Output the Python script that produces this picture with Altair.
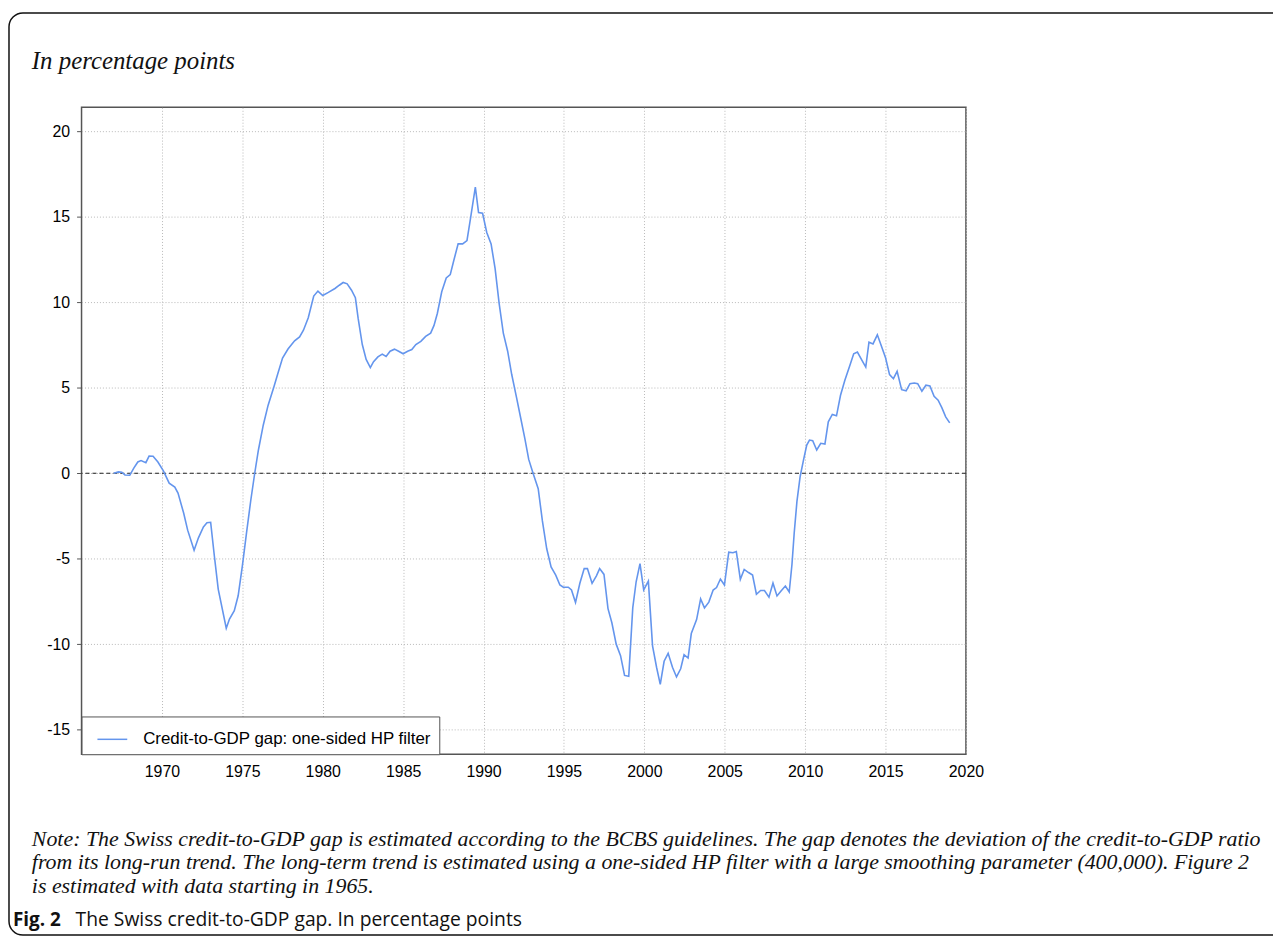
import altair as alt
import pandas as pd

# ---- data (decimal year, gap in percentage points) ----
years = [
    1967.0, 1967.3, 1967.5, 1967.7, 1968.0, 1968.25, 1968.5, 1968.7, 1969.0, 1969.2,
    1969.45, 1969.75, 1970.1, 1970.45, 1970.8, 1971.0, 1971.35, 1971.6, 1972.0, 1972.27,
    1972.58, 1972.8, 1973.03, 1973.26, 1973.5, 1974.0, 1974.2, 1974.5, 1974.74, 1975.0,
    1975.26, 1975.53, 1975.77, 1976.0, 1976.3, 1976.6, 1976.97, 1977.2, 1977.5, 1977.84,
    1978.25, 1978.56, 1978.8, 1979.1, 1979.44, 1979.7, 1980.0, 1980.35, 1980.76, 1981.03,
    1981.27, 1981.52, 1981.79, 1982.03, 1982.2, 1982.46, 1982.7, 1982.96, 1983.16, 1983.43,
    1983.7, 1983.94, 1984.19, 1984.46, 1984.72, 1985.0, 1985.28, 1985.54, 1985.79, 1986.1,
    1986.4, 1986.71, 1986.92, 1987.13, 1987.4, 1987.68, 1987.93, 1988.15, 1988.42, 1988.7,
    1988.97, 1989.18, 1989.49, 1989.69, 1989.94, 1990.2, 1990.47, 1990.72, 1990.97, 1991.23,
    1991.5, 1991.75, 1992.05, 1992.32, 1992.57, 1992.81, 1993.08, 1993.4, 1993.66, 1993.93,
    1994.2, 1994.49, 1994.75, 1994.96, 1995.27, 1995.47, 1995.72, 1995.99, 1996.26, 1996.46,
    1996.75, 1997.02, 1997.22, 1997.49, 1997.74, 1997.98, 1998.25, 1998.52, 1998.77, 1999.03,
    1999.28, 1999.49, 1999.73, 1999.96, 2000.25, 2000.51, 2000.76, 2000.99, 2001.23, 2001.48,
    2001.75, 2002.0, 2002.26, 2002.47, 2002.72, 2002.92, 2003.25, 2003.5, 2003.74, 2004.01,
    2004.28, 2004.49, 2004.73, 2004.98, 2005.25, 2005.51, 2005.72, 2005.97, 2006.21, 2006.48,
    2006.73, 2006.97, 2007.23, 2007.47, 2007.75, 2008.0, 2008.25, 2008.5, 2008.77, 2009.01,
    2009.18, 2009.32, 2009.49, 2009.69, 2009.9, 2010.1, 2010.27, 2010.47, 2010.72, 2010.97,
    2011.23, 2011.44, 2011.69, 2011.95, 2012.2, 2012.47, 2012.78, 2013.02, 2013.25, 2013.5,
    2013.77, 2013.97, 2014.22, 2014.49, 2014.73, 2015.0, 2015.25, 2015.49, 2015.72, 2016.0,
    2016.28, 2016.52, 2016.79, 2017.0, 2017.26, 2017.51, 2017.76, 2018.02, 2018.27, 2018.5,
    2018.74, 2018.99,
]
gap = [
    0.0, 0.08, 0.06, -0.1, -0.12, 0.3, 0.66, 0.74, 0.62, 1.0,
    0.99, 0.66, 0.12, -0.58, -0.81, -1.16, -2.33, -3.33, -4.5, -3.78,
    -3.14, -2.9, -2.87, -4.84, -6.78, -9.07, -8.53, -8.04, -7.17, -5.43,
    -3.49, -1.55, 0.0, 1.36, 2.81, 3.97, 5.08, 5.81, 6.74, 7.27,
    7.75, 7.98, 8.37, 9.1, 10.37, 10.66, 10.4, 10.58, 10.81, 11.0,
    11.16, 11.08, 10.71, 10.27, 9.07, 7.53, 6.66, 6.18, 6.53, 6.81,
    6.97, 6.83, 7.14, 7.26, 7.14, 6.99, 7.14, 7.24, 7.53, 7.72,
    8.01, 8.2, 8.65, 9.36, 10.62, 11.43, 11.62, 12.45, 13.42, 13.42,
    13.61, 14.86, 16.74, 15.25, 15.21, 14.09, 13.42, 11.97, 9.94, 8.2,
    7.14, 5.79, 4.44, 3.19, 2.03, 0.81, 0.0, -0.9, -2.79, -4.42,
    -5.48, -5.96, -6.54, -6.67, -6.67, -6.83, -7.56, -6.44, -5.58, -5.58,
    -6.44, -6.0, -5.58, -5.92, -7.92, -8.75, -10.0, -10.67, -11.83, -11.88,
    -7.88, -6.35, -5.29, -6.83, -6.31, -10.1, -11.35, -12.35, -11.0, -10.54,
    -11.35, -11.92, -11.44, -10.62, -10.81, -9.38, -8.56, -7.35, -7.88, -7.54,
    -6.83, -6.69, -6.19, -6.54, -4.62, -4.65, -4.58, -6.21, -5.63, -5.81,
    -5.96, -7.08, -6.86, -6.86, -7.25, -6.43, -7.18, -6.89, -6.6, -6.95,
    -5.34, -3.5, -1.65, -0.19, 0.78, 1.65, 1.94, 1.9, 1.36, 1.75,
    1.71, 3.01, 3.44, 3.36, 4.56, 5.44, 6.31, 6.99, 7.09, 6.66,
    6.21, 7.67, 7.57, 8.1, 7.48, 6.76, 5.77, 5.53, 5.96, 4.89,
    4.82, 5.24, 5.28, 5.24, 4.8, 5.15, 5.11, 4.5, 4.27, 3.84,
    3.3, 2.95,
]
series_name = "Credit-to-GDP gap: one-sided HP filter"
x_ticks = [1970, 1975, 1980, 1985, 1990, 1995, 2000, 2005, 2010, 2015, 2020]
y_ticks = [-15, -10, -5, 0, 5, 10, 15, 20]
x_domain = [1965, 2020]
y_domain = [-16.44, 21.41]

title_text = "In percentage points"
note_lines = [
    "Note: The Swiss credit-to-GDP gap is estimated according to the BCBS guidelines. The gap denotes the deviation of the credit-to-GDP ratio",
    "from its long-run trend. The long-term trend is estimated using a one-sided HP filter with a large smoothing parameter (400,000). Figure 2",
    "is estimated with data starting in 1965.",
]
caption_bold = "Fig. 2"
caption_rest = "The Swiss credit-to-GDP gap. In percentage points"

df = pd.DataFrame({"year": years, "gap": gap, "series": [series_name] * len(years)})

W, H = 890, 651
LINE_COLOR = "#6495ED"

xscale = alt.Scale(domain=x_domain, nice=False, zero=False)
yscale = alt.Scale(domain=y_domain, nice=False, zero=False)

line = alt.Chart(df).mark_line(strokeWidth=1.6).encode(
    x=alt.X("year:Q", scale=xscale,
            axis=alt.Axis(values=x_ticks, title=None, grid=True,
                          labelExpr="toString(datum.value)", labelFlush=False,
                          gridDash=[1, 2], gridColor="#b8b8b8", gridWidth=1,
                          domain=False, ticks=False, labelPadding=9,
                          labelFont="Liberation Sans", labelFontSize=16,
                          labelColor="#000")),
    y=alt.Y("gap:Q", scale=yscale,
            axis=alt.Axis(values=y_ticks, title=None, grid=True,
                          labelExpr="toString(datum.value)", labelFlush=False,
                          gridDash=[1, 2], gridColor="#b8b8b8", gridWidth=1,
                          domain=False, ticks=True, tickSize=5, tickColor="#555",
                          labelPadding=7, labelFont="Liberation Sans",
                          labelFontSize=16, labelColor="#000")),
    color=alt.Color("series:N", scale=alt.Scale(range=[LINE_COLOR]),
                    legend=alt.Legend(title=None, orient="bottom-left", offset=0,
                                      fillColor="white", strokeColor="#555",
                                      padding=7, symbolType="stroke",
                                      symbolSize=900, symbolStrokeWidth=1.5,
                                      symbolOffset=8, labelOffset=15,
                                      labelLimit=500,
                                      labelFont="Liberation Sans",
                                      labelFontSize=17, labelColor="#000")),
)

zero = alt.Chart(pd.DataFrame({"z": [0]})).mark_rule(
    color="#222", strokeWidth=1.1, strokeDash=[4, 3]
).encode(y=alt.Y("z:Q", scale=yscale))

one = pd.DataFrame({"k": [0]})

border = alt.Chart(one).mark_rect(
    filled=False, stroke="#111", strokeWidth=1.5, cornerRadius=14
).encode(x=alt.value(-73), x2=alt.value(1300), y=alt.value(-95), y2=alt.value(833))

title = alt.Chart(one).mark_text(
    align="left", baseline="alphabetic", font="Liberation Serif",
    fontStyle="italic", fontSize=25, color="#111"
).encode(x=alt.value(-50), y=alt.value(-39), text=alt.value(title_text))

note = alt.Chart(one).mark_text(
    align="left", baseline="alphabetic", font="Liberation Serif",
    fontStyle="italic", fontSize=22, color="#111", lineHeight=24
).encode(x=alt.value(-50), y=alt.value(743), text=alt.value(note_lines))

cap_b = alt.Chart(one).mark_text(
    align="left", baseline="alphabetic", font="Open Sans", fontWeight="bold",
    fontSize=19, color="#111"
).encode(x=alt.value(-69), y=alt.value(824), text=alt.value(caption_bold))

cap_r = alt.Chart(one).mark_text(
    align="left", baseline="alphabetic", font="Open Sans",
    fontSize=19.4, color="#111"
).encode(x=alt.value(-6), y=alt.value(824), text=alt.value(caption_rest))

chart = alt.layer(zero, line, border, title, note, cap_b, cap_r).properties(
    width=W, height=H,
    autosize=alt.AutoSizeParams(type="none"),
    padding={"left": 74, "top": 97, "right": 309, "bottom": 183},
    background="white",
).configure_view(stroke="#555", strokeWidth=1.5)

chart.save("out.html", embed_options={"renderer": "svg", "actions": False})
